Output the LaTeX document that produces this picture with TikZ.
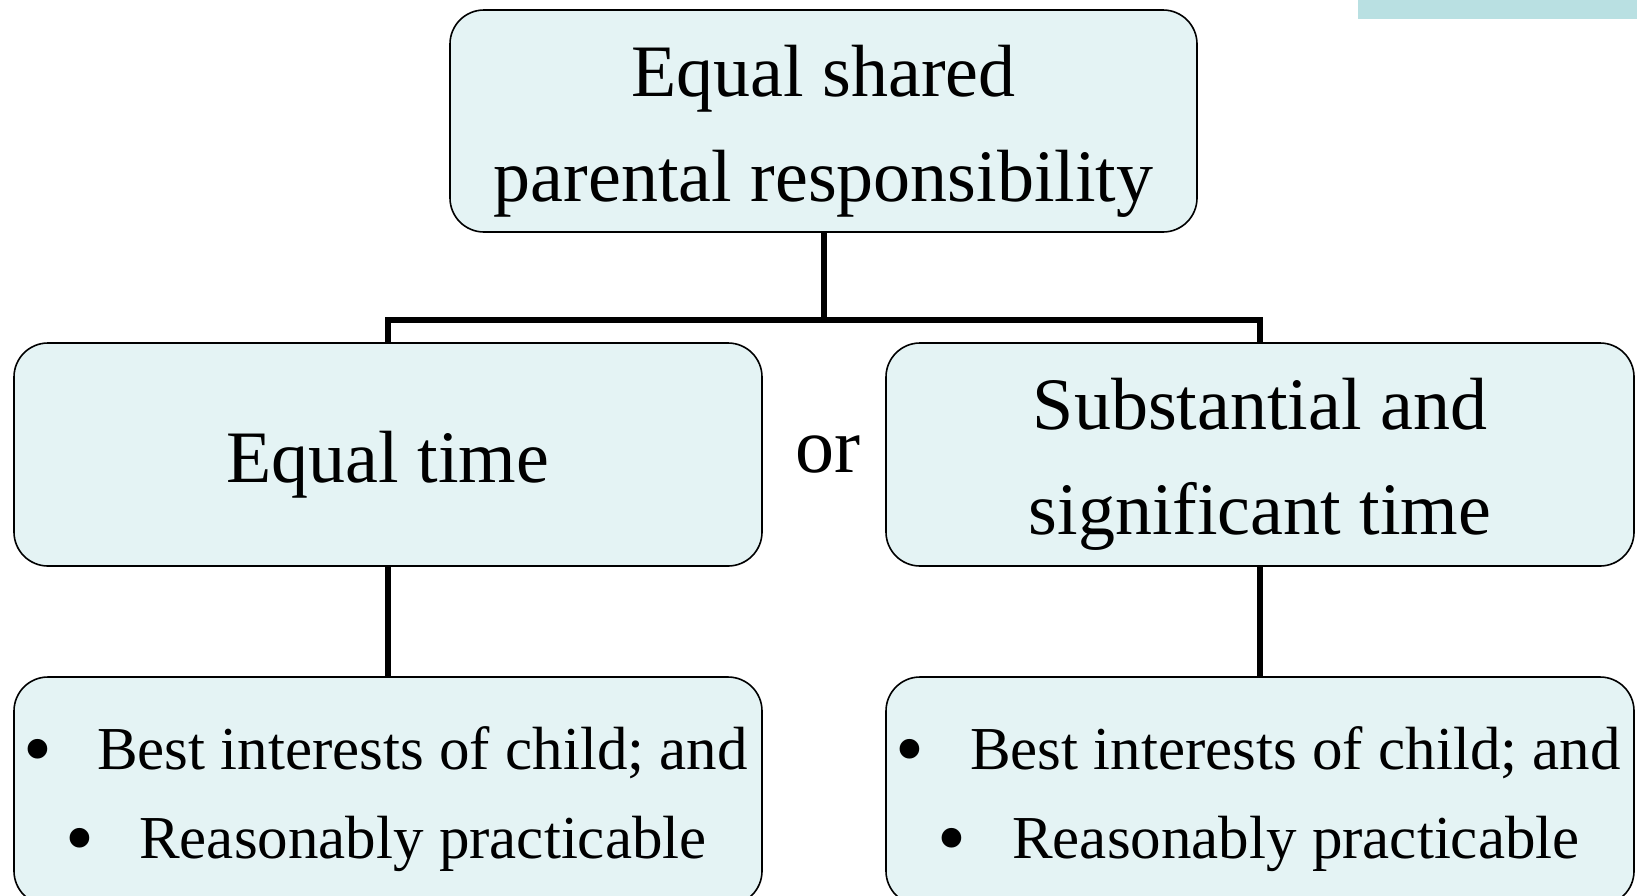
\documentclass[tikz,border=0pt]{standalone}
\usepackage{fontspec}
\setmainfont{Liberation Serif}
\definecolor{boxfill}{RGB}{228,243,244}
\definecolor{bartop}{RGB}{185,224,226}
\newcommand{\bigbul}{\raisebox{-7pt}{\scalebox{1.35}{•}}}
\begin{document}
\begin{tikzpicture}[x=1pt,y=-1pt,
  box/.style={draw=black, line width=1.6pt, fill=boxfill, rounded corners=34pt, inner sep=0pt},
  conn/.style={draw=black, line width=6pt},
  big/.style={font=\fontsize{74}{105}\selectfont, inner sep=0pt, align=center},
  small/.style={font=\fontsize{61}{88}\selectfont, anchor=base west, inner sep=0pt}]
\useasboundingbox (0,0) rectangle (1637,895);
\clip (0,0) rectangle (1637,895);
\fill[bartop] (1358,0) rectangle (1637,19);
\coordinate (bus) at (824,320);
% boxes
\node[box, minimum width=747pt, minimum height=222pt] (top) at (823.5,121) {};
\node[box, minimum width=748pt, minimum height=223pt] (midL) at (388,454.5) {};
\node[box, minimum width=748pt, minimum height=223pt] (midR) at (1260,454.5) {};
\node[box, minimum width=748pt, minimum height=228pt] (botL) at (388,791) {};
\node[box, minimum width=748pt, minimum height=228pt] (botR) at (1260,791) {};
% connectors
\draw[conn] (top.south) -- (top.south |- bus);
\draw[conn] (midL.north) -- (midL.north |- bus) -- (midR.north |- bus) -- (midR.north);
\draw[conn] (midL.south) -- (botL.north);
\draw[conn] (midR.south) -- (botR.north);
% texts
\node[big] (topt) at ([yshift=-10pt]top.center) {Equal shared\\parental responsibility};
\node[big] (midLt) at ([yshift=-10pt]midL.center) {Equal time};
\node[big] (midRt) at ([yshift=-10pt]midR.center) {Substantial and\\significant time};
\node[big, anchor=base, font=\fontsize{78}{100}\selectfont] (or) at (828,472) {or};
\node[small] (bl1b) at (23,769) {\bigbul};
\node[small] (bl1) at (97,769) {Best interests of child; and};
\node[small] (bl2b) at (65,858) {\bigbul};
\node[small] (bl2) at (139,858) {Reasonably practicable};
\node[small] (br1b) at (895,769) {\bigbul};
\node[small] (br1) at (970,769) {Best interests of child; and};
\node[small] (br2b) at (937,858) {\bigbul};
\node[small] (br2) at (1012,858) {Reasonably practicable};
\end{tikzpicture}
\end{document}
